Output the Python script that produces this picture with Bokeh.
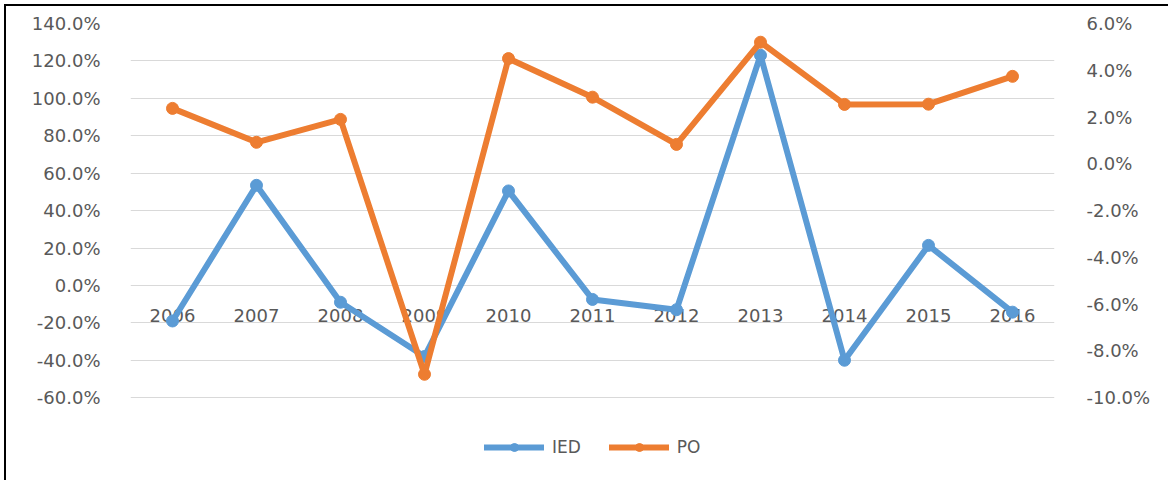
from bokeh.plotting import figure
from bokeh.models import (FactorRange, Range1d, LinearAxis, FixedTicker,
                          NumeralTickFormatter, Legend, LegendItem)
from bokeh.core.properties import value
from bokeh.embed import file_html
from bokeh.resources import INLINE

# ---- data ----
years = ["2006", "2007", "2008", "2009", "2010", "2011",
         "2012", "2013", "2014", "2015", "2016"]
ied = [-0.19, 0.535, -0.09, -0.38, 0.505, -0.075,
       -0.13, 1.23, -0.40, 0.214, -0.143]
po = [0.0237, 0.0092, 0.019, -0.090, 0.045, 0.0285,
      0.0083, 0.052, 0.0254, 0.0255, 0.0374]
left_ticks = [-0.6, -0.4, -0.2, 0.0, 0.2, 0.4, 0.6, 0.8, 1.0, 1.2, 1.4]
right_ticks = [-0.10, -0.08, -0.06, -0.04, -0.02, 0.0, 0.02, 0.04, 0.06]
axis_cross = [0.0] * len(years)
# view limits: extra room below the last tick holds the legend
left_view = (-1.0, 1.4)
right_view = (-0.132, 0.06)

FONT = "DejaVu Sans"
GREY = "#595959"
BLUE = "#5B9BD5"
ORANGE = "#ED7D31"

p = figure(width=1164, height=476,
           x_range=FactorRange(*years),
           y_range=Range1d(*left_view),
           output_backend="svg", toolbar_location=None,
           min_border_left=124, min_border_right=116,
           min_border_top=17, min_border_bottom=10)
p.styles = {"border-top": "2px solid black", "border-left": "2px solid black",
            "margin-top": "4px", "margin-left": "4px"}
p.extra_y_ranges = {"po": Range1d(*right_view)}
p.outline_line_color = None
p.background_fill_color = "white"
p.border_fill_color = "white"

p.xaxis.visible = False
p.xgrid.visible = False

ya = p.yaxis[0]
ya.ticker = FixedTicker(ticks=left_ticks)
ya.formatter = NumeralTickFormatter(format="0.0%")
ya.axis_line_color = None
ya.major_tick_line_color = None
ya.minor_tick_line_color = None
ya.major_label_text_font = FONT
ya.major_label_text_font_size = "18px"
ya.major_label_text_color = GREY
ya.major_label_standoff = 24

p.ygrid.ticker = FixedTicker(ticks=left_ticks)
p.ygrid.grid_line_color = "#d9d9d9"
p.ygrid.grid_line_width = 1

ra = LinearAxis(y_range_name="po", ticker=FixedTicker(ticks=right_ticks),
                formatter=NumeralTickFormatter(format="0.0%"))
ra.axis_line_color = None
ra.major_tick_line_color = None
ra.minor_tick_line_color = None
ra.major_label_text_font = FONT
ra.major_label_text_font_size = "18px"
ra.major_label_text_color = GREY
ra.major_label_standoff = 26
p.add_layout(ra, "right")

# category labels sitting just under the zero line
p.text(x=years, y=axis_cross, text=years, y_offset=30,
       text_align="center", text_baseline="middle",
       text_font=value(FONT), text_font_size="18px", text_color=GREY)

l1 = p.line(years, ied, line_color=BLUE, line_width=6, line_join="round", line_cap="round")
s1 = p.scatter(years, ied, size=12, fill_color=BLUE, line_color=BLUE)
l2 = p.line(years, po, line_color=ORANGE, line_width=6, line_join="round",
            line_cap="round", y_range_name="po")
s2 = p.scatter(years, po, size=12, fill_color=ORANGE, line_color=ORANGE, y_range_name="po")

legend = Legend(items=[LegendItem(label="IED", renderers=[l1, s1]),
                       LegendItem(label="PO", renderers=[l2, s2])],
                orientation="horizontal", location=(354, 15),
                glyph_width=60, glyph_height=20, label_standoff=8, spacing=28,
                padding=5, margin=0,
                label_text_font=FONT, label_text_font_size="17px",
                label_text_color=GREY,
                border_line_color=None, background_fill_alpha=0)
p.add_layout(legend, "center")

open("out.html", "w").write(file_html(p, INLINE))
